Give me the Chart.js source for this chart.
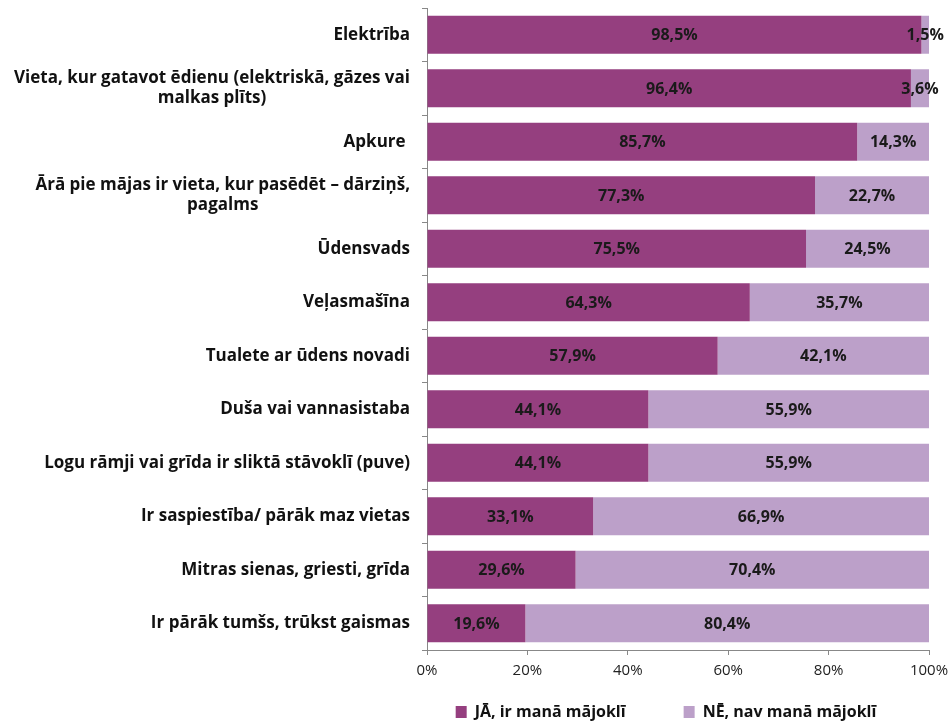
<!DOCTYPE html>
<html>
<head>
<meta charset="utf-8">
<script src="https://cdn.jsdelivr.net/npm/chart.js@4.4.1/dist/chart.umd.min.js"></script>
<style>
  html, body { margin: 0; padding: 0; background: #fff; }
  #wrap { width: 952px; height: 721px; }
</style>
</head>
<body>
<div id="wrap"><canvas id="chart" width="952" height="721"></canvas></div>
<script>
const categories = [
    'Elektrība',
    ['Vieta, kur gatavot ēdienu (elektriskā, gāzes vai', 'malkas plīts)'],
    'Apkure ',
    ['Ārā pie mājas ir vieta, kur pasēdēt – dārziņš,', 'pagalms'],
    'Ūdensvads',
    'Veļasmašīna',
    'Tualete ar ūdens novadi',
    'Duša vai vannasistaba',
    'Logu rāmji vai grīda ir sliktā stāvoklī (puve)',
    'Ir saspiestība/ pārāk maz vietas',
    'Mitras sienas, griesti, grīda',
    'Ir pārāk tumšs, trūkst gaismas'
];
const yesValues = [98.5, 96.4, 85.7, 77.3, 75.5, 64.3, 57.9, 44.1, 44.1, 33.1, 29.6, 19.6];
const noValues = [1.5, 3.6, 14.3, 22.7, 24.5, 35.7, 42.1, 55.9, 55.9, 66.9, 70.4, 80.4];
const seriesNames = ['JĀ, ir manā mājoklī', 'NĒ, nav manā mājoklī'];
const xTicks = [0, 20, 40, 60, 80, 100];

const FONT = '"Open Sans", Lato, "DejaVu Sans", sans-serif';

// value in the middle of each bar segment
const barLabels = {
    id: 'barLabels',
    afterDatasetsDraw(chart) {
        const ctx = chart.ctx;
        ctx.save();
        ctx.font = 'bold 16px ' + FONT;
        ctx.fillStyle = '#1a1a1a';
        ctx.textAlign = 'center';
        ctx.textBaseline = 'middle';
        chart.data.datasets.forEach((ds, i) => {
            chart.getDatasetMeta(i).data.forEach((bar, j) => {
                const p = bar.getProps(['x', 'y', 'base'], true);
                const txt = ds.data[j].toFixed(1).replace('.', ',') + '%';
                ctx.fillText(txt, (p.x + p.base) / 2, p.y + 1);
            });
        });
        ctx.restore();
    }
};

// category labels: block right aligned to the axis, lines centred within the block
const categoryLabels = {
    id: 'categoryLabels',
    afterDraw(chart) {
        const ctx = chart.ctx;
        const yScale = chart.scales.y;
        const right = chart.chartArea.left - 17;
        const lineH = 20;
        ctx.save();
        ctx.font = 'bold 17px ' + FONT;
        ctx.fillStyle = '#111';
        ctx.textAlign = 'center';
        ctx.textBaseline = 'middle';
        categories.forEach((label, i) => {
            const lines = Array.isArray(label) ? label : [label];
            const w = Math.max(...lines.map(l => ctx.measureText(l).width));
            const cx = right - w / 2;
            const y0 = yScale.getPixelForTick(i) - (lines.length - 1) * lineH / 2;
            lines.forEach((l, k) => ctx.fillText(l, cx, y0 + k * lineH));
        });
        ctx.restore();
    }
};

// legend sits under the plot area and a little lower, like the original
const legendUnderPlot = {
    id: 'legendUnderPlot',
    afterLayout(chart) {
        const lg = chart.legend;
        if (!lg) return;
        lg.left = chart.chartArea.left;
        lg.right = chart.chartArea.right - 24;
        lg.top += 9;
        lg.bottom += 9;
    }
};

const ctx = document.getElementById('chart').getContext('2d');
new Chart(ctx, {
    type: 'bar',
    data: {
        labels: categories,
        datasets: [{
            label: seriesNames[0],
            data: yesValues,
            backgroundColor: '#953F7F',
            categoryPercentage: 0.71,
            barPercentage: 1.0
        }, {
            label: seriesNames[1],
            data: noValues,
            backgroundColor: '#BCA0C9',
            categoryPercentage: 0.71,
            barPercentage: 1.0
        }]
    },
    options: {
        indexAxis: 'y',
        responsive: false,
        animation: false,
        layout: { padding: { top: 8, right: 23, left: 0, bottom: 0 } },
        scales: {
            x: {
                stacked: true,
                min: 0,
                max: 100,
                afterBuildTicks(axis) {
                    axis.ticks = xTicks.map(v => ({ value: v }));
                },
                afterFit(axis) {
                    axis.height = 41;
                    axis.paddingRight = 0;
                },
                grid: {
                    drawOnChartArea: false,
                    drawTicks: true,
                    tickLength: 5,
                    color: '#888'
                },
                border: { color: '#888' },
                ticks: {
                    color: '#222',
                    font: { family: FONT, size: 15 },
                    padding: 7,
                    maxRotation: 0,
                    callback: v => v + '%'
                }
            },
            y: {
                stacked: true,
                afterFit(axis) { axis.width = 427; },
                grid: {
                    drawOnChartArea: false,
                    drawTicks: true,
                    tickLength: 5,
                    color: '#888'
                },
                border: { color: '#888' },
                ticks: { display: false }
            }
        },
        plugins: {
            legend: {
                position: 'bottom',
                labels: {
                    color: '#111',
                    font: { family: FONT, size: 16, weight: 'bold' },
                    boxWidth: 11,
                    boxHeight: 12,
                    padding: 4,
                    generateLabels(chart) {
                        const items = Chart.defaults.plugins.legend.labels.generateLabels(chart);
                        // extra room between the two entries
                        items[0].text += '\u00a0'.repeat(13);
                        return items;
                    }
                }
            },
            tooltip: { enabled: false }
        }
    },
    plugins: [barLabels, categoryLabels, legendUnderPlot]
});
</script>
</body>
</html>
